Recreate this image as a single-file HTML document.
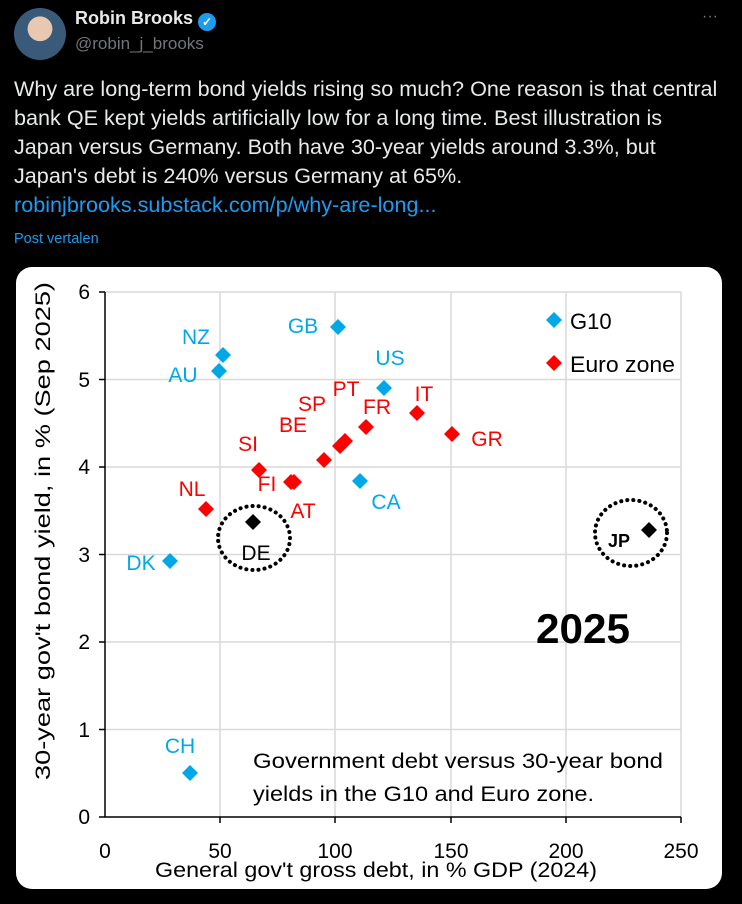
<!DOCTYPE html>
<html><head><meta charset="utf-8"><style>
body{margin:0;width:742px;height:904px;background:#000;font-family:"Liberation Sans",sans-serif;overflow:hidden;position:relative}
.a{position:absolute;white-space:nowrap}
</style></head><body>
<div class="a" style="left:14px;top:8px;width:52px;height:52px;border-radius:50%;background:radial-gradient(circle at 50% 40%,#e8c8b0 0 30%,#3a5a7a 31% 100%)"></div>
<div class="a" style="left:75px;top:8px;color:#e7e9ea;font-weight:bold;font-size:18px">Robin Brooks <span style="display:inline-block;width:18px;height:18px;border-radius:50%;background:#1d9bf0;color:#fff;font-size:12px;text-align:center;line-height:18px;vertical-align:-2px">✓</span></div>
<div class="a" style="left:75px;top:34px;color:#71767b;font-size:17px">@robin_j_brooks</div>
<div class="a" style="left:702px;top:8px;color:#71767b;font-size:16px">···</div>
<div class="a" style="left:14px;top:74px;color:#e7e9ea;font-size:21.6px;line-height:29px">Why are long-term bond yields rising so much? One reason is that central<br>bank QE kept yields artificially low for a long time. Best illustration is<br>Japan versus Germany. Both have 30-year yields around 3.3%, but<br>Japan's debt is 240% versus Germany at 65%.<br><span style="color:#1d9bf0">robinjbrooks.substack.com/p/why-are-long...</span></div>
<div class="a" style="left:14px;top:231px;color:#1d9bf0;font-size:14.5px">Post vertalen</div>
<svg class="a" style="left:0;top:0" width="742" height="904" font-family="Liberation Sans, sans-serif">
<rect x="16" y="267" width="706" height="622" rx="16" fill="#fff"/>
<g stroke="#d9d9d9" stroke-width="1.5">
<line x1="220" y1="292" x2="220" y2="817"/><line x1="335" y1="292" x2="335" y2="817"/><line x1="451" y1="292" x2="451" y2="817"/><line x1="566" y1="292" x2="566" y2="817"/><line x1="681" y1="292" x2="681" y2="817"/>
<line x1="105" y1="292" x2="681" y2="292"/><line x1="105" y1="379.5" x2="681" y2="379.5"/><line x1="105" y1="467" x2="681" y2="467"/><line x1="105" y1="554.5" x2="681" y2="554.5"/><line x1="105" y1="642" x2="681" y2="642"/><line x1="105" y1="729.5" x2="681" y2="729.5"/>
</g>
<g stroke="#000" stroke-width="1.5">
<line x1="105" y1="292" x2="105" y2="817"/><line x1="105" y1="817" x2="681" y2="817"/>
<line x1="99" y1="292" x2="105" y2="292"/><line x1="99" y1="379.5" x2="105" y2="379.5"/><line x1="99" y1="467" x2="105" y2="467"/><line x1="99" y1="554.5" x2="105" y2="554.5"/><line x1="99" y1="642" x2="105" y2="642"/><line x1="99" y1="729.5" x2="105" y2="729.5"/><line x1="99" y1="817" x2="105" y2="817"/>
<line x1="220" y1="817" x2="220" y2="823"/><line x1="335" y1="817" x2="335" y2="823"/><line x1="451" y1="817" x2="451" y2="823"/><line x1="566" y1="817" x2="566" y2="823"/><line x1="681" y1="817" x2="681" y2="823"/>
</g>
<g font-size="21" text-anchor="end" fill="#000">
<text x="90" y="299">6</text><text x="90" y="387">5</text><text x="90" y="474">4</text><text x="90" y="562">3</text><text x="90" y="649">2</text><text x="90" y="737">1</text><text x="90" y="824">0</text>
</g>
<g font-size="21" text-anchor="middle" fill="#000">
<text x="105" y="858">0</text><text x="220" y="858">50</text><text x="335" y="858">100</text><text x="451" y="858">150</text><text x="566" y="858">200</text><text x="681" y="858">250</text>
<text x="376" y="877" textLength="442" lengthAdjust="spacingAndGlyphs">General gov't gross debt, in % GDP (2024)</text>
<text transform="translate(50,531) rotate(-90)" textLength="498" lengthAdjust="spacingAndGlyphs">30-year gov't bond yield, in % (Sep 2025)</text>
</g>
<defs><path id="d" d="M0,-8L8,0L0,8L-8,0Z"/></defs>
<g fill="#00a8e8">
<use href="#d" x="223" y="355"/><use href="#d" x="219" y="371"/><use href="#d" x="338" y="327"/><use href="#d" x="384" y="388"/><use href="#d" x="360" y="481"/><use href="#d" x="170" y="561"/><use href="#d" x="190" y="773"/><use href="#d" x="554" y="320"/>
</g>
<g fill="#f00">
<use href="#d" x="417" y="413"/><use href="#d" x="452" y="434"/><use href="#d" x="366" y="427"/><use href="#d" x="345" y="441"/><use href="#d" x="340" y="446"/><use href="#d" x="324" y="460"/><use href="#d" x="259" y="470"/><use href="#d" x="294" y="482"/><use href="#d" x="291" y="482"/><use href="#d" x="206" y="509"/><use href="#d" x="554" y="363"/>
</g>
<g fill="#000"><use href="#d" x="253" y="522"/><use href="#d" x="649" y="530"/></g>
<g fill="none" stroke="#000" stroke-width="4" stroke-dasharray="0.1 6" stroke-linecap="round">
<ellipse cx="254" cy="538" rx="36" ry="32"/><ellipse cx="631" cy="533" rx="36" ry="33"/>
</g>
<g font-size="21" fill="#00a8e8" text-anchor="middle">
<text x="196" y="344">NZ</text><text x="183" y="382">AU</text><text x="303" y="333">GB</text><text x="390" y="365">US</text><text x="386" y="509">CA</text><text x="141" y="570">DK</text><text x="180" y="753">CH</text>
</g>
<g font-size="21" fill="#f00" text-anchor="middle">
<text x="424" y="401">IT</text><text x="487" y="446">GR</text><text x="377" y="414">FR</text><text x="346" y="396">PT</text><text x="312" y="411">SP</text><text x="293" y="432">BE</text><text x="248" y="451">SI</text><text x="267" y="491">FI</text><text x="303" y="518">AT</text><text x="192" y="496">NL</text>
</g>
<g font-size="21" fill="#000" text-anchor="middle"><text x="256" y="560">DE</text><text x="619" y="547" font-weight="bold" font-size="18">JP</text></g>
<text x="570" y="329" font-size="22" fill="#000">G10</text>
<text x="570" y="372" font-size="22" fill="#000" textLength="105" lengthAdjust="spacingAndGlyphs">Euro zone</text>
<text x="583" y="643" font-size="42" font-weight="bold" text-anchor="middle" fill="#000" textLength="94" lengthAdjust="spacingAndGlyphs">2025</text>
<text x="253" y="768" font-size="21" fill="#000" textLength="410" lengthAdjust="spacingAndGlyphs">Government debt versus 30-year bond</text>
<text x="253" y="801" font-size="21" fill="#000" textLength="341" lengthAdjust="spacingAndGlyphs">yields in the G10 and Euro zone.</text>
</svg>
</body></html>
